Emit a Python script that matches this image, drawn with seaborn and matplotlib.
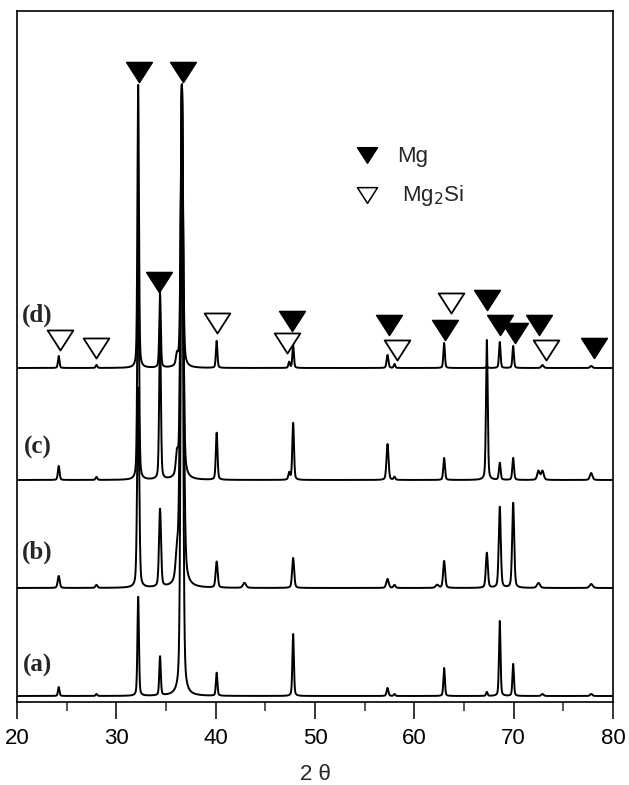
import numpy as np
import pandas as pd
import matplotlib
matplotlib.use("Agg")
import matplotlib.pyplot as plt
import seaborn as sns
from matplotlib.ticker import MultipleLocator
from matplotlib.path import Path

sns.set_style("white")
plt.rcParams["font.family"] = ["Liberation Sans", "DejaVu Sans"]

# ---------------- data ----------------
samples = ["(a)", "(b)", "(c)", "(d)"]
peak_pos = [24.2, 28.0, 32.2, 34.4, 36.1, 36.6, 40.1, 42.9, 47.4, 47.8,
            57.3, 58.0, 62.3, 63.0, 67.3, 68.6, 69.95, 72.5, 72.9, 77.8]
peak_broad = [1, 1, 1, 1, 1.3, 1.5, 1, 1.5, 1, 1,
              1.2, 1, 1.5, 1, 1, 1, 1, 1.5, 1.5, 1.5]
int_a = [9, 2, 99, 39, 0, 611, 23, 0, 0, 62, 8, 2, 0, 28, 4, 75, 32, 0, 2, 2]
int_b = [12, 3, 200, 78, 24, 503, 26, 5, 0, 30, 9, 3, 3, 27, 35, 81, 85, 5, 0, 4]
int_c = [14, 3, 250, 150, 20, 395, 47, 0, 7, 57, 36, 3, 0, 22, 140, 17, 22, 9, 9, 7]
int_d = [12, 3, 283, 75, 10, 283, 27, 0, 6, 23, 13, 4, 0, 25, 2, 26, 22, 0, 3, 2]
peak_fwhm = [0.18, 0.24, 0.20, 0.18]

# phase markers (2theta, annotation height)
mg_x = [32.24, 36.7, 34.34, 47.7, 57.4, 63.06, 67.3, 68.64, 70.16, 72.6, 78.07]
mg_y = [630, 630, 420, 381, 377, 372, 402, 377, 369, 377, 354]
mg2si_x = [24.35, 28.0, 40.13, 47.2, 58.25, 63.7, 73.3]
mg2si_y = [362, 354, 379, 359, 352, 399, 352]

# layout constants
offsets = [6, 114, 222, 334]
label_y = [37, 150, 255, 387]

# ---------------- build profiles ----------------
two_theta = np.arange(20.0, 80.0001, 0.005)


def profile(heights, fwhm, eta=0.35):
    y = np.zeros_like(two_theta)
    for p, h, b in zip(peak_pos, heights, peak_broad):
        if h == 0:
            continue
        d = (two_theta - p) / (fwhm * b / 2.0)
        y += h * (eta / (1 + d ** 2) + (1 - eta) * np.exp(-np.log(2) * d ** 2))
    return y


frames = []
for s, ints, w, off in zip(samples, [int_a, int_b, int_c, int_d], peak_fwhm, offsets):
    frames.append(pd.DataFrame({"two_theta": two_theta,
                                "signal": profile(ints, w) + off,
                                "sample": s}))
df = pd.concat(frames, ignore_index=True)
mg_df = pd.DataFrame({"x": mg_x, "y": mg_y})
si_df = pd.DataFrame({"x": mg2si_x, "y": mg2si_y})

# ---------------- plot ----------------
fig = plt.figure(figsize=(6.29, 7.85), dpi=100)
ax = fig.add_axes([17 / 629, 83 / 785, 596 / 629, 691 / 785])

sns.lineplot(data=df, x="two_theta", y="signal", hue="sample",
             palette=["black"] * 4, legend=False, estimator=None, sort=False,
             linewidth=1.4, ax=ax, zorder=2)

tri = Path([[-1.0, 0.78], [1.0, 0.78], [0.0, -0.78], [-1.0, 0.78]],
           [Path.MOVETO, Path.LINETO, Path.LINETO, Path.CLOSEPOLY])
sns.scatterplot(data=mg_df, x="x", y="y", marker=tri, s=18.5 ** 2,
                color="black", edgecolor="black", linewidth=1.1,
                ax=ax, zorder=3, legend=False)
sns.scatterplot(data=si_df, x="x", y="y", marker=tri, s=18.5 ** 2,
                facecolor="white", edgecolor="black", linewidth=1.3,
                ax=ax, zorder=4, legend=False)

# legend (manual)
ax.scatter([55.2], [547], marker=tri, s=14.5 ** 2, facecolor="black",
           edgecolor="black", linewidth=1.0, zorder=5)
ax.scatter([55.2], [507], marker=tri, s=14.5 ** 2, facecolor="white",
           edgecolor="black", linewidth=1.1, zorder=5)
ax.text(58.26, 540.5, "Mg", fontsize=16, ha="left", va="baseline")
ax.text(58.76, 501, "Mg$_2$Si", fontsize=16, ha="left", va="baseline")

for s, ly in zip(samples, label_y):
    ax.text(22.05, ly, s, fontsize=18, fontweight="bold",
            family=["Liberation Serif", "DejaVu Serif"],
            ha="center", va="center")

ax.set_xlim(20, 80)
ax.set_ylim(0, 691)
ax.set_yticks([])
ax.set_ylabel("")
ax.xaxis.set_major_locator(MultipleLocator(10))
ax.xaxis.set_minor_locator(MultipleLocator(5))
ax.tick_params(axis="x", which="major", direction="out", length=12, width=1.1,
               labelsize=16, pad=7, bottom=True, colors="black")
ax.tick_params(axis="x", which="minor", direction="out", length=6.5, width=1.1,
               bottom=True)
ax.set_xlabel("2 θ", fontsize=16, labelpad=10.5)
for sp in ax.spines.values():
    sp.set_visible(True)
    sp.set_color("black")
    sp.set_linewidth(1.2)

fig.savefig("out.png", dpi=100)
